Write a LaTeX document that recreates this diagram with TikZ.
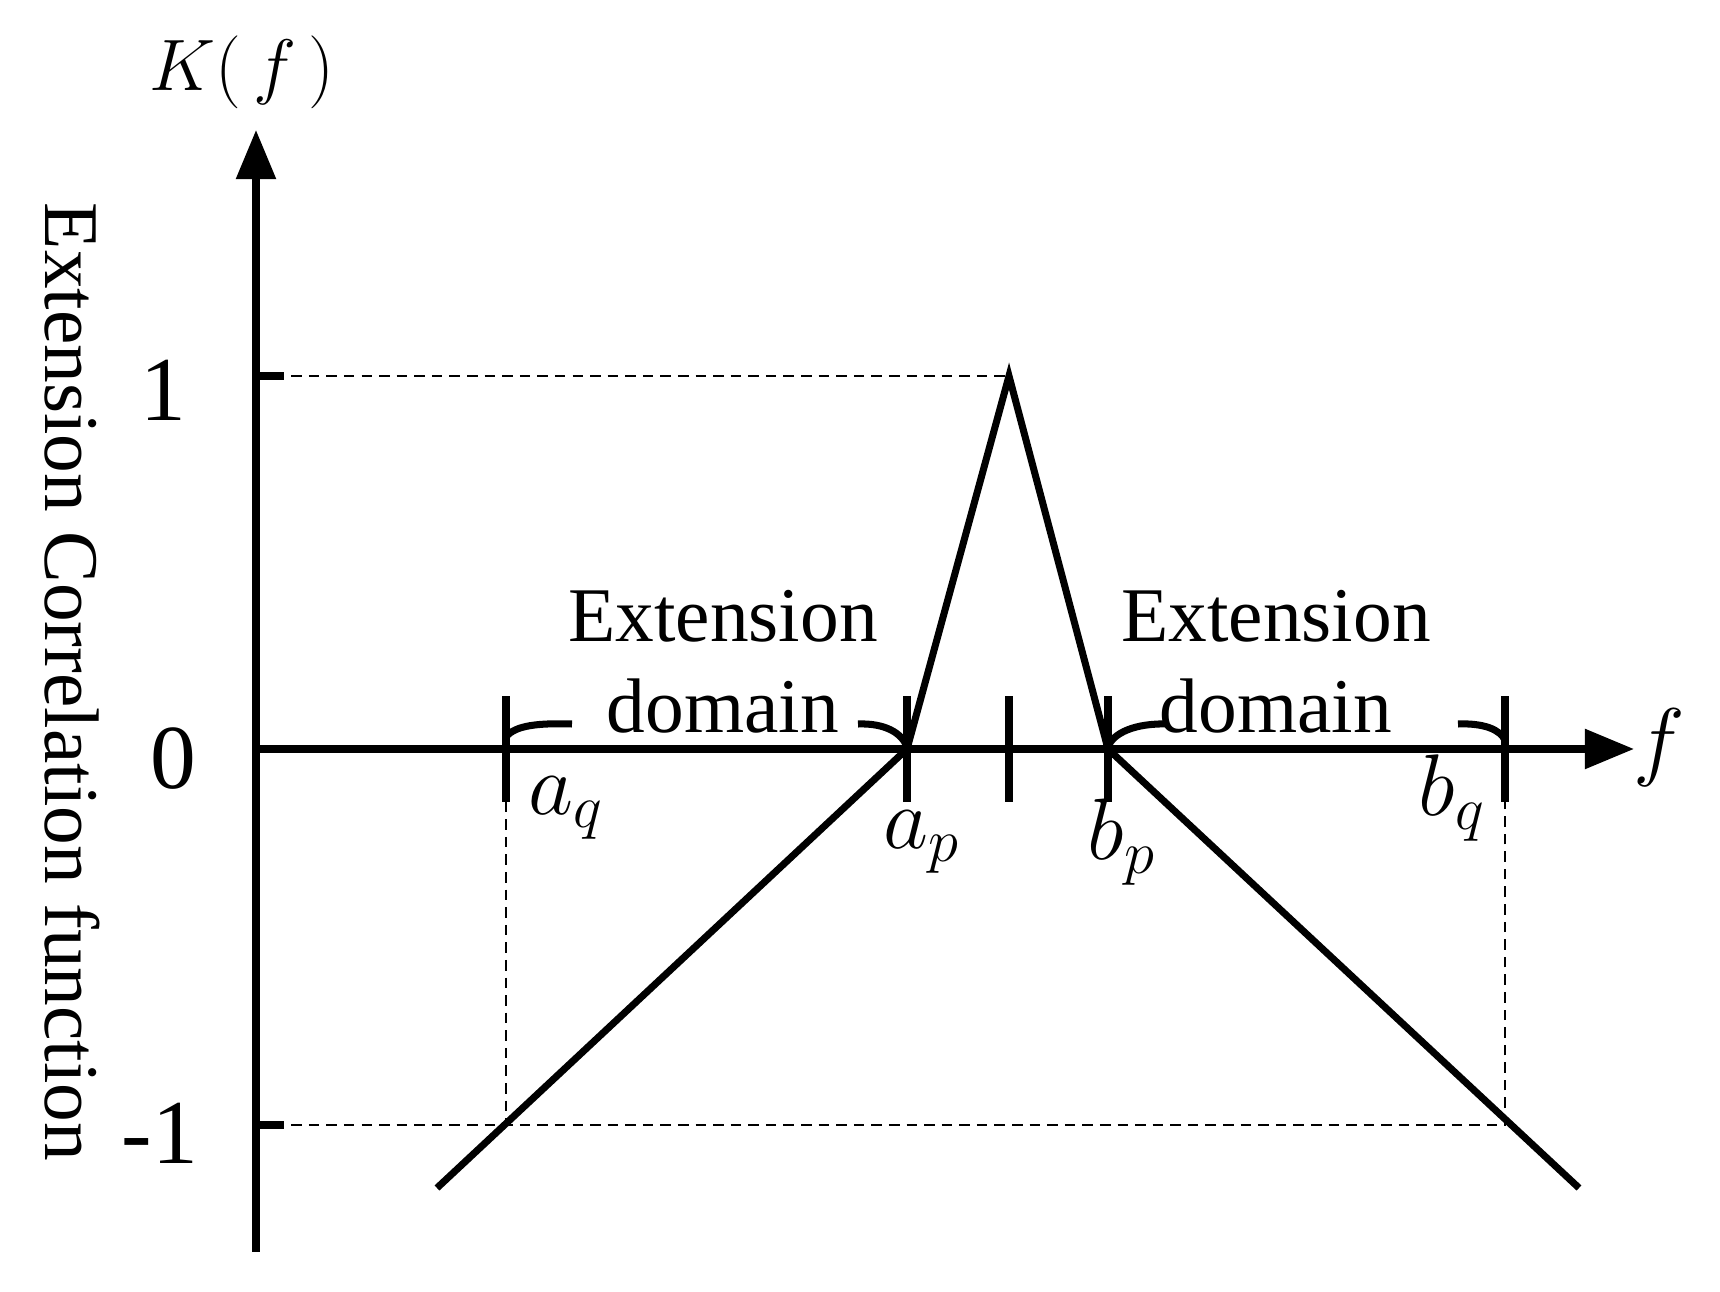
\documentclass[tikz,border=0pt]{standalone}
\usepackage{fontspec}
\setmainfont{Liberation Serif}
\usetikzlibrary{arrows.meta}
\begin{document}
\begin{tikzpicture}[x=0.01cm,y=-0.01cm]
        \tikzset{
          axis/.style={line width=2pt,-{Triangle[length=14pt,width=11pt]}},
          curve/.style={line width=2pt},
          guide/.style={densely dashed,line width=0.8pt},
          lbl/.style={font=\fontsize{22}{26}\selectfont,inner sep=0pt},
          pics/tick/.style args={#1}{code={
            \draw[line width=2pt] (0,-#1) -- (0,#1) ;
            },
          }
        }
        \useasboundingbox (0,0) rectangle (1720,1292);
        %POINTS
        \coordinate (o) at (256,749);
        \coordinate (aq) at (506,749);
        \coordinate (ap) at (907,749);
        \coordinate (m) at (1009,749);
        \coordinate (bp) at (1108,749);
        \coordinate (bq) at (1505,749);
        \coordinate (top) at (1009,376);
        \coordinate (yone) at (256,376);
        \coordinate (ymone) at (256,1125);
        \coordinate (lo) at (437,1188);
        \coordinate (ro) at (1579,1188);
        %AXIS
        \draw[axis] (256,1252) coordinate (ybot) -- (256,130) coordinate (ytop);
        \draw[axis] (o) -- (1634,749) coordinate (xend);
        \foreach \p in {aq,ap,m,bp,bq} \path (\p) pic {tick={15pt}};
        \draw[line width=2pt] (yone) -- ++(28,0);
        \draw[line width=2pt] (ymone) -- ++(28,0);
        %GUIDES
        \draw[guide] (yone) -- (top);
        \draw[guide] (ymone) -- (1505,1125) -- (bq);
        \draw[guide] (aq) -- (506,1125);
        %CURVE
        \draw[curve] (ap) -- (top) -- (bp);
        \draw[curve] (lo) -- (ap);
        \draw[curve] (bp) -- (ro);
        %BRACKETS
        \draw[curve] (506,737) .. controls (515,725) and (540,723) .. (572,724);
        \draw[curve] (858,724) .. controls (885,723) and (902,733) .. (907,747);
        \draw[curve] (1108,747) .. controls (1113,733) and (1135,723) .. (1168,724);
        \draw[curve] (1458,724) .. controls (1485,723) and (1500,730) .. (1505,740);
        %LABELS
        \node[lbl] (kf) at (242,72) {$K(\,f\,)$};
        \node[lbl,font=\fontsize{26}{30}\selectfont] (one) at (163,390) {1};
        \node[lbl,font=\fontsize{26}{30}\selectfont] (zero) at (173,759) {0};
        \node[lbl,font=\fontsize{26}{30}\selectfont] (mone) at (160,1133) {-1};
        \node[lbl,font=\fontsize{26}{30}\selectfont] (fl) at (1659,748) {$f$};
        \node[lbl,font=\fontsize{26}{30}\selectfont] (laq) at (566,808) {$a_q$};
        \node[lbl,font=\fontsize{26}{30}\selectfont] (lap) at (922,842) {$a_p$};
        \node[lbl,font=\fontsize{26}{30}\selectfont] (lbp) at (1122,842) {$b_p$};
        \node[lbl,font=\fontsize{26}{30}\selectfont] (lbq) at (1452,798) {$b_q$};
        \node[lbl,align=center] (dl) at (723,662) {Extension\\domain};
        \node[lbl,align=center] (dr) at (1276,662) {Extension\\domain};
        \node[lbl,rotate=-90] (yl) at (72,682) {Extension Correlation function};
    \end{tikzpicture}
\end{document}
